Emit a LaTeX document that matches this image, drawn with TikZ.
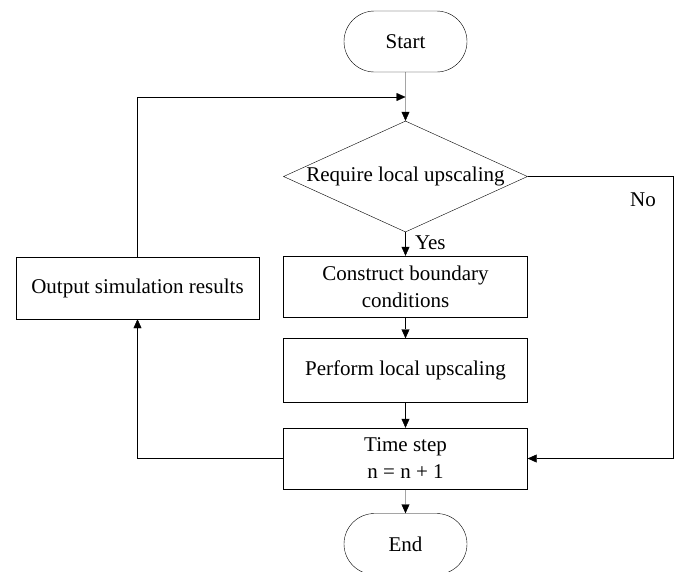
\documentclass[tikz,border=0pt]{standalone}
\usepackage{fontspec}
\setmainfont{Liberation Serif}
\usetikzlibrary{shapes.geometric, shapes.misc, arrows.meta}
\begin{document}
\begin{tikzpicture}[x = 1pt, y = -1pt, font = \fontsize{21}{27}\selectfont,
	box/.style = {draw, rectangle, align = center, minimum width = 244pt, minimum height = 61pt, inner sep = 0pt},
	term/.style = {draw, rounded rectangle, minimum width = 123pt, minimum height = 61pt, inner sep = 0pt},
	decision/.style = {draw, diamond, aspect = 2.2, minimum width = 244pt, minimum height = 111pt, inner sep = 0pt},
	arr/.style = {-{Triangle[length = 9pt, width = 8pt]}}]
	\useasboundingbox (0, 0) rectangle (680, 571);
	
	\node[term] (start) at (405.5, 41.5) {Start};
	\node[decision] (cond) at (405.5, 176.5) {Require local upscaling};
	\node[box] (construct) at (405.5, 286.5) {Construct boundary\\conditions};
	\node[box, minimum height = 64pt] (perform) at (405.5, 370.5) {Perform local upscaling};
	\node[box] (time) at (405.5, 458.5) {Time step\\n = n + 1};
	\node[term] (end) at (405.5, 544) {End};
	\node[box, minimum width = 243pt, minimum height = 62pt] (output) at (137.5, 288) {Output simulation results};
	
	\coordinate (join) at (405.5, 97);
	\coordinate (corner) at (673, 176.5);
	
	\draw[arr] (start) -- (cond);
	\draw[arr] (cond) -- (construct) node[pos = 0.45, anchor = west, xshift = 6pt] {Yes};
	\draw[arr] (construct) -- (perform);
	\draw[arr] (perform) -- (time);
	\draw[arr] (time) -- (end);
	\draw[arr] (cond.east) -- (corner) |- (time.east);
	\node (no) at (643, 200) {No};
	\draw[arr] (time.west) -| (output.south);
	\draw[arr] (output.north) |- (join);
\end{tikzpicture}
\end{document}
